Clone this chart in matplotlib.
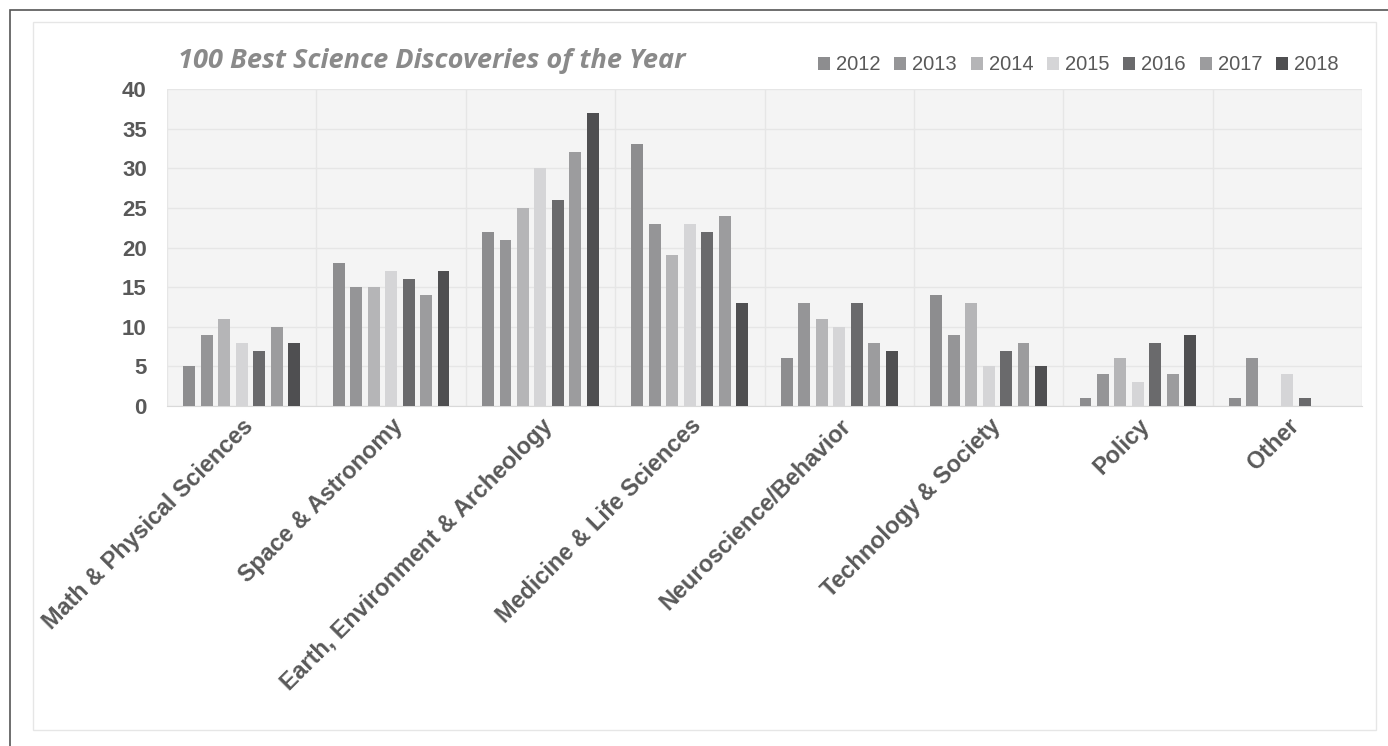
import matplotlib
matplotlib.use("Agg")
import matplotlib.pyplot as plt
import numpy as np
from matplotlib.patches import Rectangle

categories = ["Math & Physical Sciences", "Space & Astronomy", "Earth, Environment & Archeology",
              "Medicine & Life Sciences", "Neuroscience/Behavior", "Technology & Society",
              "Policy", "Other"]
years = ["2012", "2013", "2014", "2015", "2016", "2017", "2018"]
v2012 = [5, 18, 22, 33, 6, 14, 1, 1]
v2013 = [9, 15, 21, 23, 13, 9, 4, 6]
v2014 = [11, 15, 25, 19, 11, 13, 6, 0]
v2015 = [8, 17, 30, 23, 10, 5, 3, 4]
v2016 = [7, 16, 26, 22, 13, 7, 8, 1]
v2017 = [10, 14, 32, 24, 8, 8, 4, 0]
v2018 = [8, 17, 37, 13, 7, 5, 9, 0]
series = [v2012, v2013, v2014, v2015, v2016, v2017, v2018]
colors = ["#8d8d8f", "#959597", "#b5b5b7", "#d5d5d7", "#6a6a6c", "#9c9c9e", "#4f4f51"]

W, H = 1388, 746
fig = plt.figure(figsize=(W / 100, H / 100), dpi=100)
fig.patch.set_facecolor("white")

# outer frame and inner panel
fig.patches.append(Rectangle((10 / W, -0.01), 1.0, (H - 10) / H + 0.01, transform=fig.transFigure,
                             facecolor="white", edgecolor="#555555", linewidth=1.2, zorder=0))
fig.patches.append(Rectangle((33 / W, 16 / H), (1376 - 33) / W, (724 - 16) / H, transform=fig.transFigure,
                             facecolor="white", edgecolor="#e6e6e6", linewidth=1.0, zorder=0.5))

left, right, top, bottom = 167, 1362, 89, 406
ax = fig.add_axes([left / W, 1 - bottom / H, (right - left) / W, (bottom - top) / H])
ax.set_zorder(2)
ax.set_facecolor("#f4f4f4")

n = len(categories)
x = np.arange(n)
step = 0.117
bw = 0.08
for i, (vals, c) in enumerate(zip(series, colors)):
    ax.bar(x + (i - 3) * step, vals, width=bw, color=c, label=years[i], zorder=3)

ax.set_xlim(-0.5, n - 0.5)
ax.set_ylim(0, 40)
ax.set_yticks(range(0, 41, 5))
ax.set_xticks(x)
ax.set_xticks(np.arange(-0.5, n, 1), minor=True)
ax.grid(axis="y", color="#e6e6e6", linewidth=1.0, zorder=0)
ax.grid(axis="x", which="minor", color="#e6e6e6", linewidth=1.0, zorder=0)
ax.grid(axis="x", which="major", visible=False)
for s in ["top", "right", "left"]:
    ax.spines[s].set_visible(False)
ax.spines["bottom"].set_color("#d9d9d9")
ax.tick_params(axis="both", which="both", length=0)
ax.tick_params(axis="y", pad=14.5, labelsize=16, labelcolor="#595959")
for t in ax.get_yticklabels():
    t.set_fontweight("bold")
    t.set_family("Liberation Sans")
ax.set_xticklabels(categories, rotation=45, ha="right", rotation_mode="anchor",
                   fontsize=16.8, fontweight="bold", color="#595959", family="Liberation Sans")
ax.tick_params(axis="x", pad=6)

fig.text(178 / W, 1 - 61 / H, "100 Best Science Discoveries of the Year", fontsize=19.5,
         fontstyle="italic", fontweight="bold", color="#8a8a8a", family="Open Sans", va="center",
         zorder=3)

leg = fig.legend(loc="center right", bbox_to_anchor=(1357 / W, 1 - 65 / H), ncol=7, frameon=False,
                 handlelength=0.6, handleheight=0.6, handletextpad=0.3, columnspacing=0.68,
                 prop={"family": "Liberation Sans", "size": 14.5})
leg.set_zorder(3)
for t in leg.get_texts():
    t.set_color("#595959")

fig.savefig("out.png", dpi=100)
